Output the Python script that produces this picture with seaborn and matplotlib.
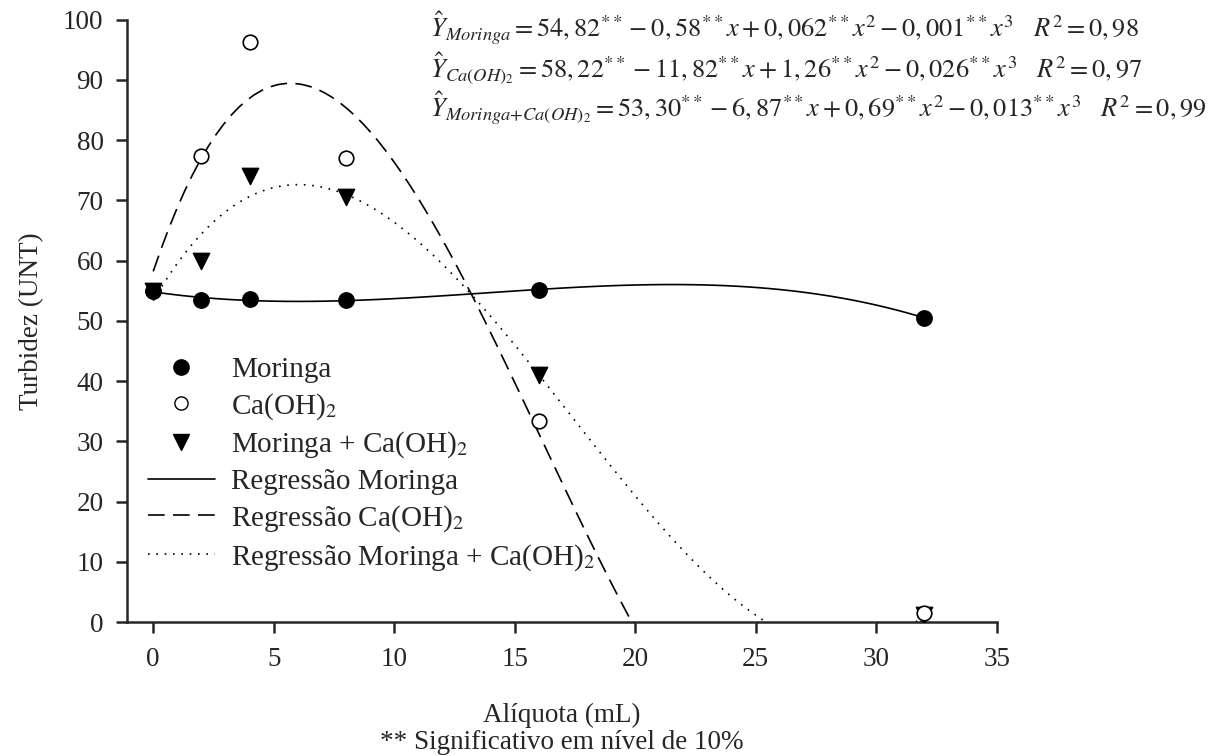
import numpy as np
import pandas as pd
import matplotlib
matplotlib.use('Agg')
import matplotlib.pyplot as plt
import seaborn as sns
from matplotlib.lines import Line2D

sns.set_style('ticks')
plt.rcParams['font.family'] = ['Liberation Serif', 'DejaVu Serif']
plt.rcParams['mathtext.fontset'] = 'stix'

# data (means)
aliquota = [0, 2, 4, 8, 16, 32]
moringa = [55.0, 53.5, 53.6, 53.4, 55.2, 50.5]
caoh2 = [55.0, 77.3, 96.3, 77.1, 33.4, 1.5]
mistura = [55.0, 60.0, 74.0, 70.5, 41.0, 1.2]

eq_moringa = r"$\hat{Y}_{Moringa}=54,82^{**}-0,58^{**}x+0,062^{**}x^2-0,001^{**}x^3\quad R^2=0,98$"
eq_caoh2 = r"$\hat{Y}_{Ca(OH)_2}=58,22^{**}-11,82^{**}x+1,26^{**}x^2-0,026^{**}x^3\quad R^2=0,97$"
eq_mistura = r"$\hat{Y}_{Moringa{+}Ca(OH)_2}=53,30^{**}-6,87^{**}x+0,69^{**}x^2-0,013^{**}x^3\quad R^2=0,99$"

df = pd.DataFrame({'x': aliquota, 'Moringa': moringa, 'CaOH2': caoh2, 'Mix': mistura})

fig = plt.figure(figsize=(12.23, 7.56), dpi=100)
ax = fig.add_axes([0.104, 0.177, 0.711, 0.797])

lw = 1.2
ls_dash = (0, (10, 5))
ls_dot = (0, (1, 4))

# regression curves (cubic fits)
sns.regplot(data=df, x='x', y='Moringa', order=3, ci=None, scatter=False, truncate=True,
            ax=ax, line_kws=dict(color='black', lw=lw, ls='-'))
sns.regplot(data=df, x='x', y='CaOH2', order=3, ci=None, scatter=False, truncate=True,
            ax=ax, line_kws=dict(color='black', lw=lw, ls=ls_dash))
sns.regplot(data=df, x='x', y='Mix', order=3, ci=None, scatter=False, truncate=True,
            ax=ax, line_kws=dict(color='black', lw=lw, ls=ls_dot))

# points
sns.scatterplot(data=df, x='x', y='Mix', marker='v', s=140, color='black', edgecolor='black', ax=ax, zorder=3)
sns.scatterplot(data=df, x='x', y='CaOH2', marker='o', s=110, facecolor='white', edgecolor='black',
                linewidth=1.2, ax=ax, zorder=3)
sns.scatterplot(data=df, x='x', y='Moringa', marker='o', s=125, color='black', edgecolor='black', ax=ax, zorder=4)

ax.set_xlim(-1.08, 35)
ax.set_ylim(0, 100)
ax.set_xticks(range(0, 36, 5))
ax.set_yticks(range(0, 101, 10))
sns.despine(ax=ax)
for s in ['left', 'bottom']:
    ax.spines[s].set_linewidth(1.8)
ax.tick_params(direction='out', length=8, width=1.8, labelsize=19.5)
ax.tick_params(axis='x', pad=10)
ax.tick_params(axis='y', pad=9)

ax.set_xlabel('Alíquota (mL)\n** Significativo em nível de 10%', fontsize=19.5, labelpad=22, linespacing=1.1)
ax.set_ylabel('Turbidez (UNT)', fontsize=19.5, labelpad=14)

handles = [
    Line2D([], [], marker='o', ls='none', color='black', markersize=11),
    Line2D([], [], marker='o', ls='none', markerfacecolor='white', markeredgecolor='black', markersize=9.5),
    Line2D([], [], marker='v', ls='none', color='black', markersize=12),
    Line2D([], [], color='black', lw=lw, ls='-'),
    Line2D([], [], color='black', lw=lw, ls=ls_dash),
    Line2D([], [], color='black', lw=lw, ls=ls_dot),
]
labels = ['Moringa', 'Ca(OH)$_2$', 'Moringa + Ca(OH)$_2$', 'Regressão Moringa',
          'Regressão Ca(OH)$_2$', 'Regressão Moringa + Ca(OH)$_2$']
ax.legend(handles, labels, loc='upper left', bbox_to_anchor=(0.0, 0.475), frameon=False,
          fontsize=21, handlelength=2.3, labelspacing=0.28, handletextpad=0.55, borderaxespad=0.3)

for i, eq in enumerate([eq_moringa, eq_caoh2, eq_mistura]):
    fig.text(0.352, 0.962 - i * 0.053, eq, fontsize=19, va='center', ha='left')

fig.savefig('out.png', dpi=100)
